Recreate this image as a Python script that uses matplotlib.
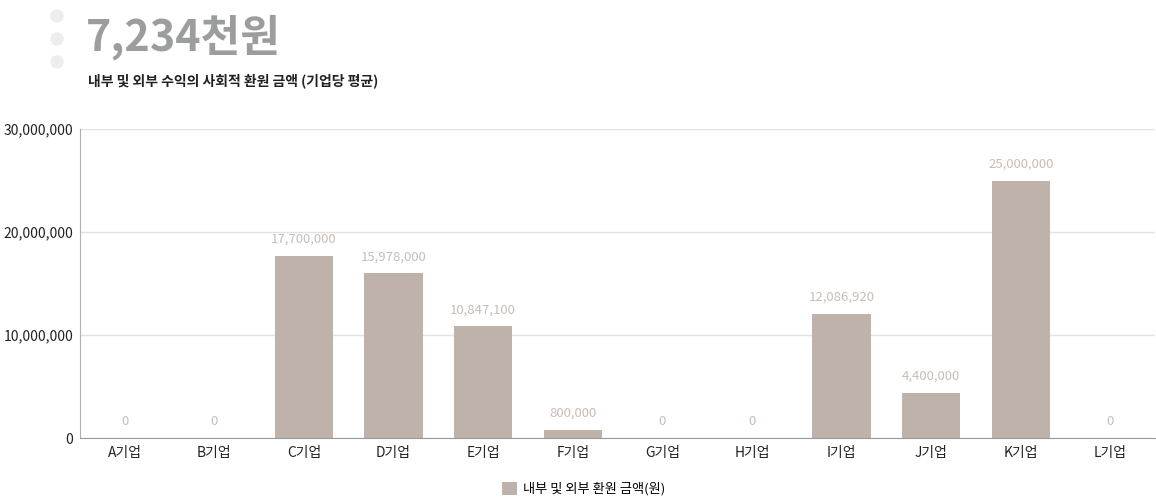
import matplotlib.pyplot as plt
from matplotlib.patches import Ellipse
from matplotlib.ticker import FuncFormatter

plt.rcParams['font.family'] = ['Noto Sans CJK KR', 'DejaVu Sans']

companies = ['A기업', 'B기업', 'C기업', 'D기업', 'E기업', 'F기업',
             'G기업', 'H기업', 'I기업', 'J기업', 'K기업', 'L기업']
amounts = [0, 0, 17700000, 15978000, 10847100, 800000,
           0, 0, 12086920, 4400000, 25000000, 0]
y_ticks = [0, 10000000, 20000000, 30000000]

big_number = '7,234천원'
subtitle = '내부 및 외부 수익의 사회적 환원 금액 (기업당 평균)'
series_name = '내부 및 외부 환원 금액(원)'

bar_color = '#bfb2aa'
label_color = '#c9bdb5'

W, H = 1156, 497
fig = plt.figure(figsize=(W / 100, H / 100), dpi=100)
ax = fig.add_axes([0.0692, 0.1187, 0.930, 0.6217])

x = range(len(companies))
ax.bar(x, amounts, width=0.65, color=bar_color, label=series_name, zorder=2)

for xi, v in zip(x, amounts):
    ax.annotate(f'{v:,}', (xi, v), xytext=(0, 7), textcoords='offset points',
                ha='center', va='bottom', fontsize=9.5, color=label_color)

ax.set_xlim(-0.5, len(companies) - 0.5)
ax.set_ylim(0, 30000000)
ax.set_yticks(y_ticks)
ax.yaxis.set_major_formatter(FuncFormatter(lambda v, p: f'{int(v):,}'))
ax.set_xticks(list(x))
ax.set_xticklabels(companies)
ax.tick_params(axis='both', length=0, labelsize=10, colors='#222222')
ax.tick_params(axis='x', pad=6)
ax.tick_params(axis='y', pad=5)
ax.grid(axis='y', color='#e2e2e2', linewidth=1, zorder=0)

for side in ['top', 'right']:
    ax.spines[side].set_visible(False)
ax.spines['left'].set_color('#b0b0b0')
ax.spines['bottom'].set_color('#999999')

fig.legend(loc='center', bbox_to_anchor=(0.505, 0.016), frameon=False,
           fontsize=9.5, handlelength=1.1, handleheight=1.1, handletextpad=0.5)

# header
fig.text(0.074, 0.925, big_number, fontsize=31, fontweight='bold',
         color='#9b9e9d', ha='left', va='center')
fig.text(0.076, 0.838, subtitle, fontsize=10, fontweight='bold',
         color='#222222', ha='left', va='center')
for yy in [16, 39, 62]:
    fig.add_artist(Ellipse((57 / W, 1 - yy / H), 12 / W, 12 / H,
                           transform=fig.transFigure, color='#ededed', zorder=5))

fig.savefig('out.png', dpi=100)
